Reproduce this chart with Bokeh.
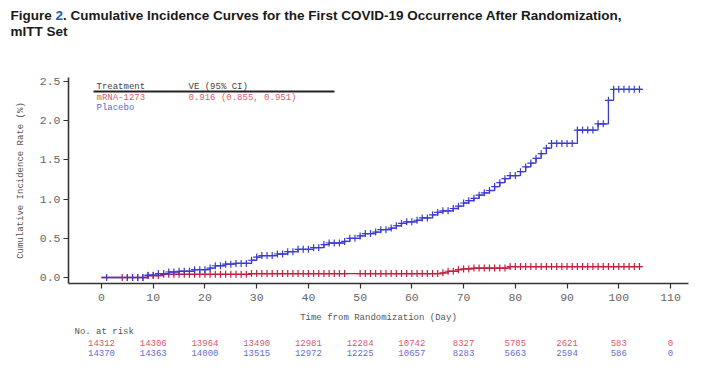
import numpy as np
from bokeh.plotting import figure
from bokeh.layouts import column
from bokeh.models import ColumnDataSource, FixedTicker, Range1d
from bokeh.core.properties import value
from bokeh.embed import file_html
from bokeh.resources import INLINE

# ---------------- data ----------------
placebo_days = [0, 9, 11, 13, 15, 18, 21, 22, 24, 26, 29, 30, 31, 34, 36, 38, 41, 43, 44, 47,
                48, 50, 51, 53, 54, 56, 57, 58, 59, 61, 62, 64, 65, 66, 68, 69, 70, 71, 72, 73,
                74, 75, 76, 77, 78, 79, 81, 82, 83, 84, 85, 86, 87, 92, 96, 98, 99]
placebo_vals = [0.0, 0.03, 0.05, 0.07, 0.08, 0.10, 0.12, 0.15, 0.17, 0.18, 0.22, 0.26, 0.28, 0.30,
                0.33, 0.36, 0.38, 0.42, 0.44, 0.46, 0.50, 0.53, 0.56, 0.58, 0.61, 0.63, 0.66, 0.69,
                0.71, 0.73, 0.76, 0.80, 0.83, 0.85, 0.88, 0.91, 0.95, 0.98, 1.01, 1.05, 1.08, 1.11,
                1.16, 1.21, 1.26, 1.30, 1.35, 1.41, 1.46, 1.52, 1.58, 1.65, 1.71, 1.88, 1.96, 2.26, 2.40]
placebo_end = 104.5
placebo_censor = [1, 5, 6, 7, 8, 9, 10, 11, 12, 13, 14, 15, 16, 17, 18, 19, 20, 21, 22, 23, 24, 25,
                  26, 27, 28, 29, 30, 31, 32, 33, 34, 35, 36, 37, 38, 39, 40, 41, 42, 43, 44, 45,
                  46, 47, 48, 49, 50, 51, 52, 53, 54, 55, 56, 57, 58, 59, 60, 61, 62, 63, 64, 65,
                  66, 67, 68, 69, 70, 71, 72, 73, 74, 75, 76, 77, 78, 79, 80, 81, 82, 83, 84, 85,
                  86, 87, 88, 89, 90, 91, 92, 93, 94, 95, 96, 97, 98, 99, 100, 101, 102, 103, 104]

mrna_days = [0, 9, 12, 29, 66, 67, 69, 70, 72, 79]
mrna_vals = [0.0, 0.025, 0.04, 0.05, 0.06, 0.08, 0.10, 0.11, 0.12, 0.14]
mrna_end = 104.5
mrna_censor = [4, 5, 6, 7, 8, 9, 10, 11, 12, 13, 14, 15, 16, 17, 18, 19, 20, 21, 22, 23, 24, 25,
               26, 27, 28, 29, 30, 31, 32, 33, 34, 35, 36, 37, 38, 39, 40, 41, 42, 43, 44, 45,
               46, 47, 50, 51, 52, 53, 54, 55, 56, 57, 58, 59, 60, 61, 62, 63, 64, 65, 66, 67,
               68, 69, 70, 71, 72, 73, 74, 75, 76, 77, 78, 79, 80, 81, 82, 83, 84, 85, 86, 87,
               88, 89, 90, 91, 92, 93, 94, 95, 96, 97, 98, 99, 100, 101, 102, 103, 104]

x_ticks = [0, 10, 20, 30, 40, 50, 60, 70, 80, 90, 100, 110]
y_ticks = [0.0, 0.5, 1.0, 1.5, 2.0, 2.5]
risk_days = [0, 10, 20, 30, 40, 50, 60, 70, 80, 90, 100, 110]
risk_mrna = ["14312", "14306", "13964", "13490", "12981", "12284", "10742", "8327", "5705", "2621", "583", "0"]
risk_placebo = ["14370", "14363", "14000", "13515", "12972", "12225", "10657", "8283", "5663", "2594", "586", "0"]

title_pre = "Figure "
title_num = "2"
title_rest = ". Cumulative Incidence Curves for the First COVID-19 Occurrence After Randomization,"
title_line2 = "mITT Set"

# ---------------- layout ----------------
W = 720
TOP_H, MAIN_H, BOT_H = 45, 281, 44
XMIN, XMAX = -6.38, 113.48
YMIN, YMAX = -0.0765, 2.551
FL, FR, FT, FB = 68, 688, 77, 283   # frame edges in page pixels
MT = FT - TOP_H


def dx(px):
    return XMIN + (px - FL) * (XMAX - XMIN) / (FR - FL)


def dy(py):
    return YMIN + (FB - py) * (YMAX - YMIN) / (FB - FT)


MONO = "Liberation Mono"
TITLE_FONT = "Liberation Sans"
TITLE_SIZE = 13.5
RED = "#c41f3e"
BLUE = "#3b3bd0"


def bare(fig):
    fig.outline_line_color = None
    fig.grid.visible = False
    fig.axis.visible = False
    fig.background_fill_color = "white"
    fig.border_fill_color = "white"
    return fig


# ---- title strip ----
t = bare(figure(width=W, height=TOP_H, output_backend="svg", toolbar_location=None,
                x_range=Range1d(0, W), y_range=Range1d(TOP_H, 0),
                min_border_left=0, min_border_right=0, min_border_top=0, min_border_bottom=0))
t.frame_align = False
tt = dict(text_font=value(TITLE_FONT), text_font_size=f"{TITLE_SIZE}px", text_font_style="bold",
          text_baseline="middle", text_align="left")
x_num = 10 + 3.334 * TITLE_SIZE          # advance of "Figure " (Arial/Liberation Sans Bold metrics)
x_rest = x_num + 0.556 * TITLE_SIZE      # advance of "2"
t.text(x=[10], y=[15], text=[title_pre], text_color="#1a1a1a", **tt)
t.text(x=[x_num], y=[15], text=[title_num], text_color="#2a5aa8", **tt)
t.text(x=[x_rest], y=[15], text=[title_rest], text_color="#1a1a1a", **tt)
t.text(x=[10], y=[31], text=[title_line2], text_color="#1a1a1a", **tt)

# ---- main chart ----
xr = Range1d(XMIN, XMAX)
p = figure(width=W, height=MAIN_H, output_backend="svg", toolbar_location=None,
           x_range=xr, y_range=Range1d(YMIN, YMAX),
           min_border_left=FL, min_border_right=W - FR,
           min_border_top=MT, min_border_bottom=MAIN_H - MT - (FB - FT))
p.outline_line_color = None
p.grid.visible = False
p.background_fill_color = "white"
p.border_fill_color = "white"

for ax in (p.xaxis[0], p.yaxis[0]):
    ax.axis_line_color = "#333333"
    ax.axis_line_width = 1.6
    ax.major_tick_line_color = "#333333"
    ax.major_tick_line_width = 1.2
    ax.major_tick_out = 5
    ax.major_tick_in = 0
    ax.minor_tick_line_color = None
    ax.major_label_text_font = MONO
    ax.major_label_text_font_size = "11.5px"
    ax.major_label_text_color = "#666666"
    ax.axis_label_text_font = MONO
    ax.axis_label_text_font_size = "9px"
    ax.axis_label_text_font_style = "normal"
    ax.axis_label_text_color = "#555555"

p.xaxis.ticker = FixedTicker(ticks=x_ticks)
p.yaxis.ticker = FixedTicker(ticks=y_ticks)
p.yaxis.major_label_overrides = {tk: f"{tk:.1f}" for tk in y_ticks}
p.xaxis.axis_label = "Time from Randomization (Day)"
p.yaxis.axis_label = "Cumulative Incidence Rate (%)"
p.xaxis.major_label_standoff = 5
p.yaxis.major_label_standoff = 3
p.yaxis.axis_label_standoff = 11
p.xaxis.axis_label_standoff = 9


def step_value(days, vals, tt_):
    idx = np.searchsorted(np.asarray(days), np.asarray(tt_), side="right") - 1
    return np.asarray(vals)[idx]


for days, vals, end, cens, col in ((mrna_days, mrna_vals, mrna_end, mrna_censor, RED),
                                   (placebo_days, placebo_vals, placebo_end, placebo_censor, BLUE)):
    xs = list(days) + [end]
    ys = list(vals) + [vals[-1]]
    p.step(xs, ys, mode="after", line_color=col, line_width=1.3)
    p.scatter(cens, step_value(days, vals, cens), marker="cross", size=7,
              line_color=col, line_width=1.2)

# legend block inside the frame
leg = dict(text_font=value(MONO), text_font_size="9px", text_baseline="middle", text_align="left")
p.text(x=[dx(96), dx(188)], y=[dy(86), dy(86)], text=["Treatment", "VE (95% CI)"],
       text_color="#444444", **leg)
p.segment(x0=[dx(93)], y0=[dy(91)], x1=[dx(334)], y1=[dy(91)], line_color="#222222", line_width=2)
p.text(x=[dx(96), dx(188)], y=[dy(97), dy(97)], text=["mRNA-1273", "0.916 (0.855, 0.951)"],
       text_color="#dd5a70", **leg)
p.text(x=[dx(96)], y=[dy(107)], text=["Placebo"], text_color="#6464dc", **leg)

# ---- number at risk strip ----
b = bare(figure(width=W, height=BOT_H, output_backend="svg", toolbar_location=None,
                x_range=xr, y_range=Range1d(BOT_H, 0),
                min_border_left=FL, min_border_right=W - FR, min_border_top=0, min_border_bottom=0))
y0 = TOP_H + MAIN_H
b.text(x=[dx(74)], y=[331 - y0], text=["No. at risk"], text_color="#555555", **leg)
rk = dict(text_font=value(MONO), text_font_size="9px", text_baseline="middle", text_align="center")
b.text(x="x", y="y", text="t", source=ColumnDataSource(dict(x=risk_days, y=[342 - y0] * len(risk_days), t=risk_mrna)),
       text_color="#d65a6c", **rk)
b.text(x="x", y="y", text="t", source=ColumnDataSource(dict(x=risk_days, y=[352 - y0] * len(risk_days), t=risk_placebo)),
       text_color="#6a6ad2", **rk)

layout = column(t, p, b, spacing=0)
open("out.html", "w").write(file_html(layout, INLINE))
